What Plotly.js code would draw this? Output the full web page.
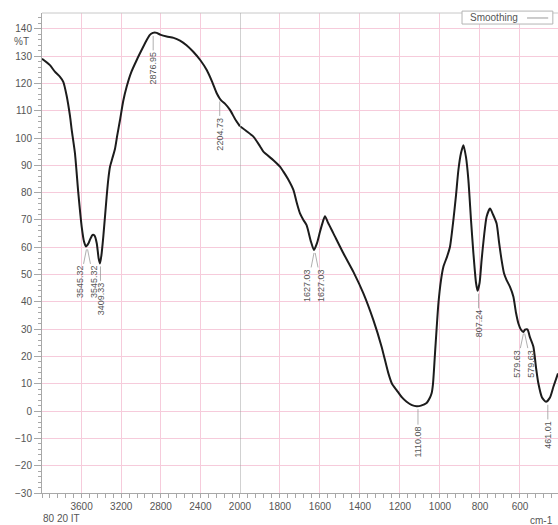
<!DOCTYPE html>
<html>
<head>
<meta charset="utf-8">
<script src="https://cdn.plot.ly/plotly-3.0.1.min.js"></script>
<style>html,body{margin:0;padding:0;background:#fff;}#chart{width:558px;height:525px;}</style>
</head>
<body>
<div id="chart"></div>
<script>
// Wavenumber (cm-1) and transmittance (%T)
const wavenumber = [4000, 3920, 3870, 3820, 3785, 3751, 3717, 3700, 3667, 3633, 3599, 3575, 3556, 3530, 3515, 3490, 3470, 3447, 3428, 3414, 3400, 3381, 3347, 3330, 3313, 3290, 3263, 3240, 3212, 3180, 3145, 3100, 3043, 2990, 2942, 2910, 2880, 2860, 2841, 2800, 2740, 2670, 2606, 2540, 2472, 2400, 2336, 2280, 2235, 2205, 2185, 2150, 2101, 2050, 2000,
  1967, 1933, 1900, 1883, 1833, 1800, 1783, 1760, 1733, 1715, 1700, 1683, 1667, 1645, 1630, 1615, 1600, 1585, 1575, 1560, 1533, 1483, 1433, 1383, 1333, 1292, 1258, 1240, 1217, 1190, 1167, 1140, 1117, 1095, 1067, 1050, 1042, 1035, 1025, 1008, 995, 983, 965, 950, 933, 920, 908, 895, 883, 870, 858, 845, 833, 820, 812, 802, 792, 780, 767, 750, 735, 717, 705, 692, 680, 667, 650, 633, 620, 608, 595, 583, 575, 563, 550, 533, 520, 508, 490, 470, 450, 433, 410];
const transmittance = [129, 126.7, 124.3, 122.5, 120.6, 115.5, 108, 103, 94.4, 79.8, 67.5, 62, 60.3, 61.5, 62.8, 64.5, 64.3, 61.5, 56, 54.1, 57, 63.8, 78.5, 85, 89.5, 92.5, 96, 101, 106.6, 113.5, 118.8, 124, 128.6, 132.5, 135.9, 137.8, 138.5, 138.7, 138.5, 137.8, 137.2, 136.7, 135.7, 134, 131.6, 128.5, 124.9, 120.5, 116.4, 114.5, 113.6, 112.5, 110.3, 107, 104.3,
  102.5, 100.5, 97, 95, 91.9, 89.5, 87.7, 85, 81, 76, 72.4, 70, 68.1, 62, 59, 61.5, 65.7, 69.5, 71.4, 69, 65.1, 57.8, 51, 43.1, 33.3, 23.6, 13.8, 10, 7.7, 5, 3.4, 2.2, 1.8, 2, 3, 5, 6.5, 10, 21.1, 39.4, 48, 52.9, 56.5, 60.2, 70, 79, 88.3, 94.5, 97.4, 93, 84.6, 70, 57.8, 47, 44.1, 47, 55.3, 64, 71.2, 74.2, 72, 68.7, 62, 55.3, 50.5, 48, 45.5, 41.9, 36, 32.1, 29.8, 29, 29.8, 29.9, 27, 23.6, 16, 10.1, 5, 3.4, 5, 8.9, 13.8];

// Peak picks
const peakWn = [3545.32, 3545.32, 3409.33, 2876.95, 2204.73, 1627.03, 1627.03, 1110.08, 807.24, 579.63, 579.63, 461.01];
const peakT = [60.3, 60.3, 54.1, 138.5, 114.5, 59, 59, 1.8, 44.1, 29.5, 29.5, 3.4];
const peakLabels = ["3545.32", "3545.32", "3409.33", "2876.95", "2204.73", "1627.03", "1627.03", "1110.08", "807.24", "579.63", "579.63", "461.01"];

const leftTicks = [3600, 3200, 2800, 2400];
const rightTicks = [2000, 1800, 1600, 1400, 1200, 1000, 800, 600];
const seriesName = "Smoothing";

const split = 2000;
const lx = [], ly = [], rx = [], ry = [];
wavenumber.forEach((w, i) => {
  if (w >= split) { lx.push(w); ly.push(transmittance[i]); }
  if (w <= split) { rx.push(w); ry.push(transmittance[i]); }
});

const pink = '#f6cbdb';
const axisGrey = '#a8a8a8';
const txt = '#555555';
const FONT = 'Liberation Sans, Arial, Helvetica, sans-serif';
const lineStyle = {color: '#1c1c1c', width: 2, shape: 'spline', smoothing: 0.6};

const traces = [
  {x: lx, y: ly, xaxis: 'x', yaxis: 'y', mode: 'lines', line: lineStyle, name: seriesName, showlegend: false, hoverinfo: 'x+y'},
  {x: rx, y: ry, xaxis: 'x2', yaxis: 'y', mode: 'lines', line: lineStyle, name: seriesName, showlegend: false, hoverinfo: 'x+y'}
];

// peak label annotations: duplicated picks side by side
const annotations = [];
peakWn.forEach((w, i) => {
  let dx = 0;
  if (i > 0 && peakWn[i - 1] === w) dx = 7;
  else if (i < peakWn.length - 1 && peakWn[i + 1] === w) dx = -7;
  const len = peakLabels[i].length * 4.7;
  annotations.push({
    x: w, y: peakT[i], xref: w > split ? 'x' : 'x2', yref: 'y',
    text: peakLabels[i], textangle: -90,
    font: {family: FONT, size: 9, color: txt},
    showarrow: true, arrowhead: 0, arrowwidth: 0.8, arrowcolor: '#9a9a9a',
    ax: dx, ay: 19 + len / 2, standoff: 3
  });
});

annotations.push(
  {xref: 'paper', yref: 'y', x: 0, y: 135.5, xanchor: 'right', xshift: -11, text: '%T', showarrow: false, font: {family: FONT, size: 10, color: txt}},
  {xref: 'paper', yref: 'paper', x: 0, y: -0.053, xanchor: 'left', yanchor: 'middle', xshift: -1, text: '80 20 IT', showarrow: false, font: {family: FONT, size: 10, color: txt}},
  {xref: 'paper', yref: 'paper', x: 0.994, y: -0.057, xanchor: 'right', yanchor: 'middle', text: 'cm-1', showarrow: false, font: {family: FONT, size: 10, color: txt}},
  // legend entry text
  {xref: 'paper', yref: 'paper', x: 0.8256, y: 0.9906, xanchor: 'left', yanchor: 'middle', text: seriesName,
   showarrow: false, font: {family: FONT, size: 10, color: txt}}
);

const shapes = [
  {type: 'line', xref: 'paper', yref: 'paper', x0: 0, x1: 1, y0: 1, y1: 1, line: {color: '#c8c8c8', width: 1}},
  {type: 'line', xref: 'x2', yref: 'paper', x0: split, x1: split, y0: 0, y1: 1, line: {color: '#a0a0a0', width: 1}},
  // legend box and line sample
  {type: 'rect', xref: 'paper', yref: 'paper', x0: 0.814, x1: 0.990, y0: 0.977, y1: 1.004, fillcolor: '#ffffff', line: {color: '#b4b4b4', width: 1}, layer: 'above'},
  {type: 'line', xref: 'paper', yref: 'paper', x0: 0.940, x1: 0.981, y0: 0.9896, y1: 0.9896, line: {color: '#9a9a9a', width: 1}, layer: 'above'}
];

const tickfont = {family: FONT, size: 10, color: txt};
const layout = {
  width: 558, height: 525,
  margin: {l: 42, r: 0, t: 13, b: 32},
  paper_bgcolor: '#fff', plot_bgcolor: '#fff',
  showlegend: false,
  font: {family: FONT, size: 10, color: txt},
  xaxis: {
    domain: [0, 0.3837], range: [4000, 2000], anchor: 'y',
    tickmode: 'array', tickvals: leftTicks, ticks: 'outside', ticklen: 4, tickcolor: axisGrey, tickfont: tickfont,
    showgrid: true, gridcolor: pink, gridwidth: 1, zeroline: false,
    showline: true, linecolor: axisGrey, linewidth: 1,
    minor: {tickmode: 'linear', tick0: 0, dtick: 80, ticks: 'outside', ticklen: 4, tickcolor: axisGrey, showgrid: false}
  },
  xaxis2: {
    domain: [0.3837, 1], range: [2000, 410], anchor: 'y',
    tickmode: 'array', tickvals: rightTicks, ticks: 'outside', ticklen: 4, tickcolor: axisGrey, tickfont: tickfont,
    showgrid: true, gridcolor: pink, gridwidth: 1, zeroline: false,
    showline: true, linecolor: axisGrey, linewidth: 1,
    minor: {tickmode: 'linear', tick0: 0, dtick: 40, ticks: 'outside', ticklen: 4, tickcolor: axisGrey, showgrid: false}
  },
  yaxis: {
    range: [-30, 145.8], tickmode: 'linear', tick0: 0, dtick: 10,
    ticks: 'outside', ticklen: 7, tickcolor: axisGrey, tickfont: tickfont,
    showgrid: true, gridcolor: pink, gridwidth: 1, zeroline: false,
    showline: true, linecolor: axisGrey, linewidth: 1,
    minor: {tickmode: 'linear', tick0: 0, dtick: 2, ticks: 'outside', ticklen: 3, tickcolor: axisGrey, showgrid: false}
  },
  annotations: annotations,
  shapes: shapes
};

Plotly.newPlot('chart', traces, layout, {displayModeBar: false, staticPlot: true});
</script>
</body>
</html>
